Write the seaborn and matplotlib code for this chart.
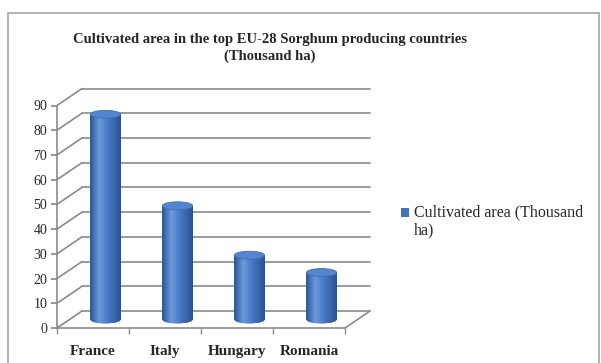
import numpy as np
import pandas as pd
import matplotlib
matplotlib.use("Agg")
import matplotlib.pyplot as plt
import matplotlib.transforms as mtransforms
from matplotlib.patches import Ellipse, Rectangle
from matplotlib.lines import Line2D
from matplotlib.colors import LinearSegmentedColormap
import seaborn as sns

# Data
countries = ["France", "Italy", "Hungary", "Romania"]
area = [83, 46, 26, 19]
y_ticks = list(range(0, 100, 10))
series_label = "Cultivated area (Thousand\nha)"
title = "Cultivated area in the top EU-28 Sorghum producing countries\n(Thousand ha)"

sns.set_theme(style="white")
plt.rcParams["font.family"] = ["Liberation Serif", "DejaVu Serif"]

W, H = 601, 363
fig = plt.figure(figsize=(W / 100, H / 100), dpi=100)
fig.patch.set_facecolor("white")

# front plane of the 3D frame
x0_px, x1_px, y0_px, y1_px = 57, 345, 328, 105.5
ax = fig.add_axes([x0_px / W, 1 - y0_px / H, (x1_px - x0_px) / W, (y0_px - y1_px) / H])
ax.set_facecolor("none")

df = pd.DataFrame({"Country": countries, "Area": area})
sns.barplot(data=df, x="Country", y="Area", color="#3E72C0", width=0.42,
            saturation=1, ax=ax, label=series_label, zorder=3)
ax.set_xlim(-0.5, 3.5)
ax.set_ylim(0, 90)

grid_c = "#8A8A8A"
depth = (25, 17)  # depth of the frame in pixels
full = mtransforms.ScaledTranslation(depth[0] / 100, depth[1] / 100, fig.dpi_scale_trans)
half = mtransforms.ScaledTranslation(depth[0] / 200, depth[1] / 200, fig.dpi_scale_trans)
back = ax.transData + full
mid = ax.transData + half

# back wall gridlines and side-wall diagonals
fig.canvas.draw()
to_fig = fig.transFigure.inverted()
for v in y_ticks:
    ax.plot([-0.5, 3.5], [v, v], color=grid_c, lw=1.2, transform=back, clip_on=False, zorder=1)
    p0 = ax.transData.transform((-0.5, v))
    p1 = p0 + np.array(depth)
    a, b = to_fig.transform([p0, p1])
    fig.add_artist(Line2D([a[0], b[0]], [a[1], b[1]], color=grid_c, lw=1.2,
                          transform=fig.transFigure, zorder=1))
# right edge of the floor
p0 = ax.transData.transform((3.5, 0))
a, b = to_fig.transform([p0, p0 + np.array(depth)])
fig.add_artist(Line2D([a[0], b[0]], [a[1], b[1]], color=grid_c, lw=1.2,
                      transform=fig.transFigure, zorder=1))

# cylinder shading
cmap = LinearSegmentedColormap.from_list(
    "cyl", [(0, "#2A5596"), (0.3, "#6A9BDD"), (0.55, "#4A7DC6"), (1, "#2A5394")])
grad = np.linspace(0, 1, 64)[None, :]
ell_h = 3.2
for patch in list(ax.patches):
    x = patch.get_x()
    w = patch.get_width()
    h = patch.get_height()
    patch.set_transform(mid)
    patch.set_edgecolor("none")
    bottom = Ellipse((x + w / 2, 0), w, ell_h, transform=mid, facecolor="#3463A8",
                     edgecolor="none", zorder=2.9)
    ax.add_patch(bottom)
    ax.imshow(grad, cmap=cmap, extent=(x, x + w, 0, h), aspect="auto",
              transform=mid, zorder=3.1, interpolation="bilinear")
    imb = ax.imshow(grad, cmap=cmap, extent=(x, x + w, -ell_h / 2, 0), aspect="auto",
                    transform=mid, zorder=3.0, interpolation="bilinear")
    imb.set_clip_path(bottom)
    top = Ellipse((x + w / 2, h), w, ell_h, transform=mid, facecolor="#5386CE",
                  edgecolor="#3D6DB4", lw=0.6, zorder=3.2)
    ax.add_patch(top)
ax.set_xlim(-0.5, 3.5)
ax.set_ylim(0, 90)

# axes
for s in ["top", "right"]:
    ax.spines[s].set_visible(False)
for s in ["left", "bottom"]:
    ax.spines[s].set_color(grid_c)
    ax.spines[s].set_linewidth(1.2)
ax.set_yticks(y_ticks)
ax.set_yticklabels([str(v) for v in y_ticks], fontsize=10)
ax.set_xticks(range(len(countries)))
ax.set_xticklabels(countries, fontsize=11, fontweight="bold")
ax.set_xticks([-0.5, 0.5, 1.5, 2.5, 3.5], minor=True)
ax.tick_params(axis="y", which="major", direction="out", length=4, color=grid_c,
               pad=3, left=True)
ax.tick_params(axis="x", which="major", length=0, pad=12)
ax.tick_params(axis="x", which="minor", direction="out", length=4, color=grid_c, bottom=True)
ax.set_xlabel("")
ax.set_ylabel("")
ax.grid(False)

# legend: marker sits beside the first line of the wrapped label
leg = ax.legend(loc="upper left", bbox_to_anchor=(387 / W, 1 - 190 / H),
                bbox_transform=fig.transFigure, frameon=False, fontsize=11.5,
                handlelength=0.5, handleheight=0.5, handletextpad=0.3)
for t in leg.get_texts():
    t.set_linespacing(1.2)
handle = leg.legend_handles[0]
handle.set_y(handle.get_y() + 6.5)

fig.text(270 / W, 1 - 48 / H, title, ha="center", va="center", fontsize=10.5,
         fontweight="bold", linespacing=1.3)

# chart border
fig.add_artist(Rectangle((8 / W, -0.05), 591 / W, 1 - 13 / H + 0.05,
                         transform=fig.transFigure, fill=False,
                         edgecolor="#A6A6A6", lw=1.2, zorder=0))

fig.savefig("out.png", dpi=100)
